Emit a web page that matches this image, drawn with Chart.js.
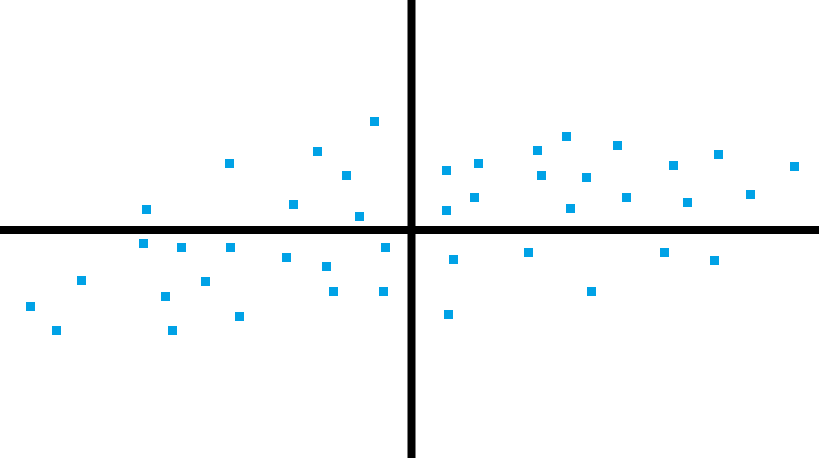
<!DOCTYPE html>
<html>
<head>
<meta charset="utf-8">
<script src="https://cdn.jsdelivr.net/npm/chart.js@4.4.0/dist/chart.umd.min.js"></script>
<style>
  html, body { margin: 0; padding: 0; background: #fff; }
  #wrap { width: 819px; height: 460px; }
</style>
</head>
<body>
<div id="wrap"><canvas id="myChart" width="819" height="460"></canvas></div>
<script>
// scatter values (x, y), origin at the crossing of the axes
let xs = [-3.70, -9.40, -18.20, -6.50, -26.50, -11.80, -5.20,
           15.50, 12.60, 20.60, 3.50, 6.70, 13.00, 17.50, 26.20, 30.70, 38.30, 6.30, 3.50, 15.90, 21.50, 27.60, 33.90,
          -26.80, -23.00, -18.10, -2.60, -12.50, -8.50, -33.00, -20.60, -24.60, -7.80, -2.80, -38.10, -17.20, -35.50, -23.90,
           4.20, 11.70, 25.30, 30.30, 18.00, 3.70]
let ys = [10.85, 7.85, 6.65, 5.45, 2.05, 2.55, 1.35,
          9.35, 7.95, 8.45, 5.95, 6.65, 5.45, 5.25, 6.45, 7.55, 6.35, 3.25, 1.95, 2.15, 3.25, 2.75, 3.55,
          -1.35, -1.75, -1.75, -1.75, -2.75, -3.65, -5.05, -5.15, -6.65, -6.15, -6.15, -7.65, -8.65, -10.05, -10.05,
          -2.95, -2.25, -2.25, -3.05, -6.15, -8.45]

let xMin = -41.15, xMax = 40.75
let yMin = -23, yMax = 23

let pts = xs.map(function(x, i){
    return {x: x, y: ys[i]}
})

// thick black axes through zero
const crossAxes = {
    id: 'crossAxes',
    beforeDatasetsDraw(chart) {
        const ctx = chart.ctx
        const x0 = chart.scales.x.getPixelForValue(0)
        const y0 = chart.scales.y.getPixelForValue(0)
        ctx.save()
        ctx.fillStyle = '#000'
        ctx.fillRect(0, y0 - 4, chart.width, 8)
        ctx.fillRect(x0 - 4, 0, 8, chart.height - 2)
        ctx.restore()
    }
}

let config = {
    type: 'scatter',
    data: {
        datasets: [{
            data: pts,
            pointStyle: 'rect',
            pointRadius: 6.4,
            pointHoverRadius: 6.4,
            backgroundColor: '#00a2e6',
            borderWidth: 0
        }]
    },
    options: {
        responsive: false,
        animation: false,
        layout: { padding: 0, autoPadding: false },
        plugins: {
            legend: { display: false },
            tooltip: { enabled: false }
        },
        scales: {
            x: { type: 'linear', min: xMin, max: xMax, display: false },
            y: { type: 'linear', min: yMin, max: yMax, display: false }
        }
    },
    plugins: [crossAxes]
}

let myChart = new Chart(document.getElementById('myChart'), config)
</script>
</body>
</html>
